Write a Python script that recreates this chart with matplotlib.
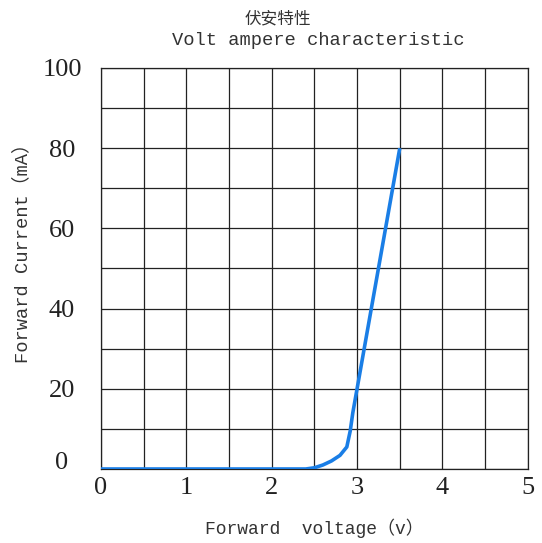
import numpy as np
import matplotlib.pyplot as plt
import matplotlib.transforms as mtransforms

# forward voltage (V) vs forward current (mA)
voltage = [0.0, 2.4, 2.5, 2.6, 2.7, 2.8, 2.88, 2.92, 2.95, 3.0, 3.5]
current = [0.0, 0.0, 0.3, 1.0, 2.0, 3.4, 5.5, 9.5, 14.0, 20.0, 80.0]

x_ticks = [0, 1, 2, 3, 4, 5]
y_ticks = [0, 20, 40, 60, 80, 100]

MONO = ['Liberation Mono', 'Noto Sans CJK SC', 'DejaVu Sans']
SERIF = ['Liberation Serif', 'DejaVu Serif']

fig = plt.figure(figsize=(5.42, 5.43), dpi=100)
ax = fig.add_axes([0.186, 0.1363, 0.788, 0.7385])

# the line
ax.plot(voltage, current, color='#1a7ee6', linewidth=2.6, solid_capstyle='butt', zorder=3)

ax.set_xlim(0, 5)
ax.set_ylim(0, 100)
ax.set_xticks(x_ticks)
ax.set_yticks(y_ticks)
ax.set_xticks(np.arange(0, 5.01, 0.5), minor=True)
ax.set_yticks(np.arange(0, 100.1, 10), minor=True)
ax.grid(which='both', color='#222222', linewidth=0.9)
ax.tick_params(which='both', length=0)
ax.tick_params(axis='x', pad=6)
ax.tick_params(axis='y', pad=28)
for s in ax.spines.values():
    s.set_color('#222222')
    s.set_linewidth(0.9)

for lab in ax.get_xticklabels() + ax.get_yticklabels():
    lab.set_fontfamily(SERIF)
    lab.set_fontsize(19)
    lab.set_color('#222222')
for lab in ax.get_yticklabels():
    lab.set_horizontalalignment('center')

# the "0" on the y axis sits a bit above the bottom line
ylabs = ax.get_yticklabels()
ylabs[0].set_transform(ylabs[0].get_transform() +
                       mtransforms.ScaledTranslation(0, 8 / 100, fig.dpi_scale_trans))

ax.set_xlabel('Forward  voltage\uff08v\uff09', family=MONO, fontsize=13,
              color='#333333', labelpad=14)
ax.set_ylabel('Forward Current\uff08mA\uff09', family=MONO, fontsize=13.5,
              color='#333333')
ax.yaxis.set_label_coords(-0.162, 0.55)

# two line title
fig.text(0.513, 0.966, '伏安特性', family=['Noto Sans CJK SC', 'DejaVu Sans'],
         fontsize=12, ha='center', va='center', color='#333333')
fig.text(0.587, 0.926, 'Volt ampere characteristic', family=MONO,
         fontsize=13.5, ha='center', va='center', color='#333333')

fig.savefig('out.png', dpi=100)
